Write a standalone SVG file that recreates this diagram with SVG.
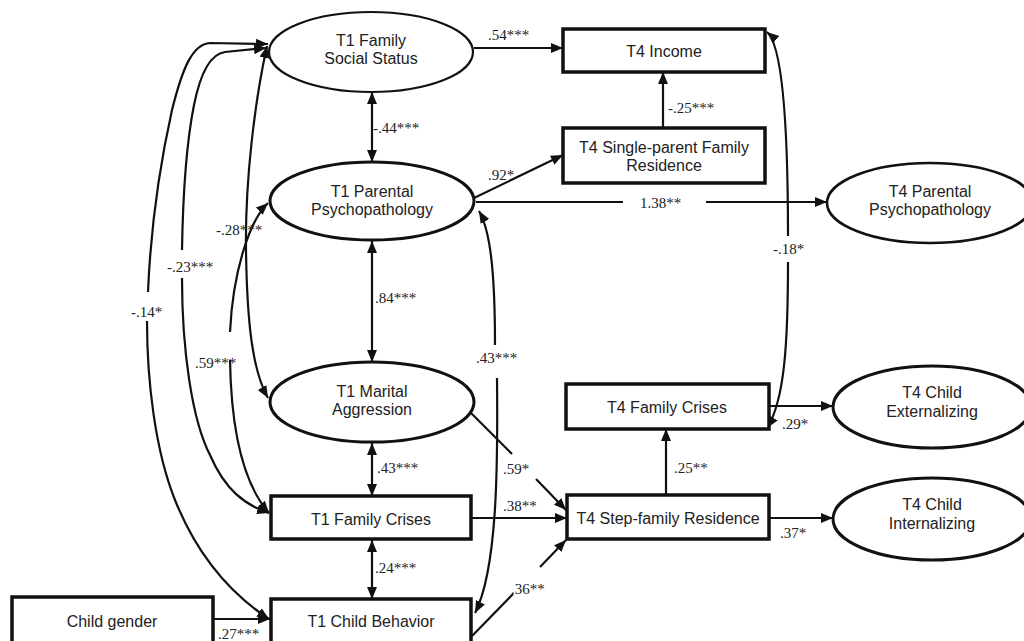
<svg xmlns="http://www.w3.org/2000/svg" width="1024" height="641" viewBox="0 0 1024 641">
<style>
.box{fill:#fff;stroke:#111;stroke-width:3.5}
.ell{fill:#fff;stroke:#111;stroke-width:3}
.thin{stroke-width:2.2}
.nt{font-family:"Liberation Sans",Arial,sans-serif;font-size:16px;fill:#222;text-anchor:middle}
.lb{font-family:"Liberation Serif","Times New Roman",serif;font-size:15px;fill:#222}
.e{fill:none;stroke:#111;stroke-width:2.2}
.a{marker-end:url(#ah)}
.d{marker-start:url(#ah);marker-end:url(#ah)}
</style>
<defs>
<marker id="ah" markerUnits="userSpaceOnUse" markerWidth="13" markerHeight="11" refX="12" refY="5" orient="auto-start-reverse">
<path d="M0,0 L12,5 L0,10 z" fill="#111"/>
</marker>
</defs>
<rect width="1024" height="641" fill="#fff"/>

<g id="connectors">
<path class="e a" d="M474 48 L563 48"/>
<path class="e d" d="M372 92 L372 162"/>
<path class="e a" d="M474 198 L563 155"/>
<path class="e a" d="M476 202 L623 202 M706 202 L827 202"/>
<path class="e a" d="M663 128 L663 72"/>
<path class="e d" d="M372 241 L372 362"/>
<path class="e d" d="M372 443 L372 496"/>
<path class="e d" d="M372 540 L372 599"/>
<path class="e a" d="M471 518 L567 518"/>
<path class="e a" d="M471 413 L512 454 M536 479 L566 510"/>
<path class="e a" d="M472 636 L513 594 M540 567 L566 540"/>
<path class="e d" d="M479 211 C490 230 495 270 495 345 M497 378 C498 470 497 570 475 613"/>
<path class="e a" d="M769 406 L833 406"/>
<path class="e a" d="M769 518 L833 518"/>
<path class="e a" d="M666 495 L666 429"/>
<path class="e d" d="M767 32 C782 45 788 120 788 236 M788 262 C788 340 785 400 767 428"/>
<path class="e a" d="M213 619 L270 619"/>
<path class="e d" d="M268 44 L210 43 C192 44 182 70 172 110 C162 155 151 220 148 292 M147 321 C147 380 155 450 175 500 C195 550 225 590 269 619"/>
<path class="e d" d="M266 48 L225 52 C210 54 200 75 194 105 C187 140 183 190 182 250 M182 278 C182 350 192 420 210 455 C225 490 245 505 269 513"/>
<path class="e d" d="M267 46 C255 100 245 180 246 250 C247 320 252 370 268 398"/>
<path class="e d" d="M268 203 C250 220 233 270 230 332 M230 360 C231 420 240 480 269 513"/>
</g>

<g id="labels">
<text class="lb" x="488" y="40">.54***</text>
<text class="lb" x="373" y="133">-.44***</text>
<text class="lb" x="488" y="180">.92*</text>
<text class="lb" x="640" y="208">1.38**</text>
<text class="lb" x="668" y="113">-.25***</text>
<text class="lb" x="375" y="303">.84***</text>
<text class="lb" x="377" y="473">.43***</text>
<text class="lb" x="375" y="573">.24***</text>
<text class="lb" x="503" y="511">.38**</text>
<text class="lb" x="503" y="474">.59*</text>
<text class="lb" x="511" y="594">.36**</text>
<text class="lb" x="476" y="363">.43***</text>
<text class="lb" x="782" y="429">.29*</text>
<text class="lb" x="780" y="538">.37*</text>
<text class="lb" x="674" y="473">.25**</text>
<text class="lb" x="773" y="254">-.18*</text>
<text class="lb" x="218" y="639">.27***</text>
<text class="lb" x="131" y="317">-.14*</text>
<text class="lb" x="167" y="272">-.23***</text>
<text class="lb" x="216" y="235">-.28***</text>
<text class="lb" x="195" y="368">.59***</text>
</g>

<g id="n_fss"><ellipse class="ell thin" cx="371" cy="52" rx="102" ry="40"/><text class="nt" x="371" y="46">T1 Family</text><text class="nt" x="371" y="64">Social Status</text></g>
<g id="n_pp"><ellipse class="ell" cx="372" cy="201" rx="102" ry="39"/><text class="nt" x="372" y="197">T1 Parental</text><text class="nt" x="372" y="215">Psychopathology</text></g>
<g id="n_ma"><ellipse class="ell" cx="372" cy="402" rx="102" ry="40"/><text class="nt" x="372" y="397">T1 Marital</text><text class="nt" x="372" y="415">Aggression</text></g>
<g id="n_fc"><rect class="box" x="271" y="496" width="200" height="43"/><text class="nt" x="371" y="525">T1 Family Crises</text></g>
<g id="n_cb"><rect class="box" x="271" y="599" width="200" height="44"/><text class="nt" x="371" y="627">T1 Child Behavior</text></g>
<g id="n_cg"><rect class="box" x="12" y="597" width="201" height="46"/><text class="nt" x="112" y="627">Child gender</text></g>
<g id="n_inc"><rect class="box" x="563" y="29" width="202" height="43"/><text class="nt" x="664" y="57">T4 Income</text></g>
<g id="n_sp"><rect class="box" x="563" y="128" width="202" height="55"/><text class="nt" x="664" y="153">T4 Single-parent Family</text><text class="nt" x="664" y="171">Residence</text></g>
<g id="n_fc4"><rect class="box" x="566" y="384" width="203" height="45"/><text class="nt" x="667" y="413">T4 Family Crises</text></g>
<g id="n_sf"><rect class="box" x="567" y="495" width="202" height="44"/><text class="nt" x="668" y="524">T4 Step-family Residence</text></g>
<g id="n_pp4"><ellipse class="ell" cx="930" cy="203" rx="103" ry="40" style="stroke-width:2.6"/><text class="nt" x="930" y="197">T4 Parental</text><text class="nt" x="930" y="215">Psychopathology</text></g>
<g id="n_ext"><ellipse class="ell" cx="932" cy="407" rx="99" ry="41"/><text class="nt" x="932" y="398">T4 Child</text><text class="nt" x="932" y="417">Externalizing</text></g>
<g id="n_int"><ellipse class="ell" cx="932" cy="519" rx="99" ry="41"/><text class="nt" x="932" y="510">T4 Child</text><text class="nt" x="932" y="529">Internalizing</text></g>
</svg>
